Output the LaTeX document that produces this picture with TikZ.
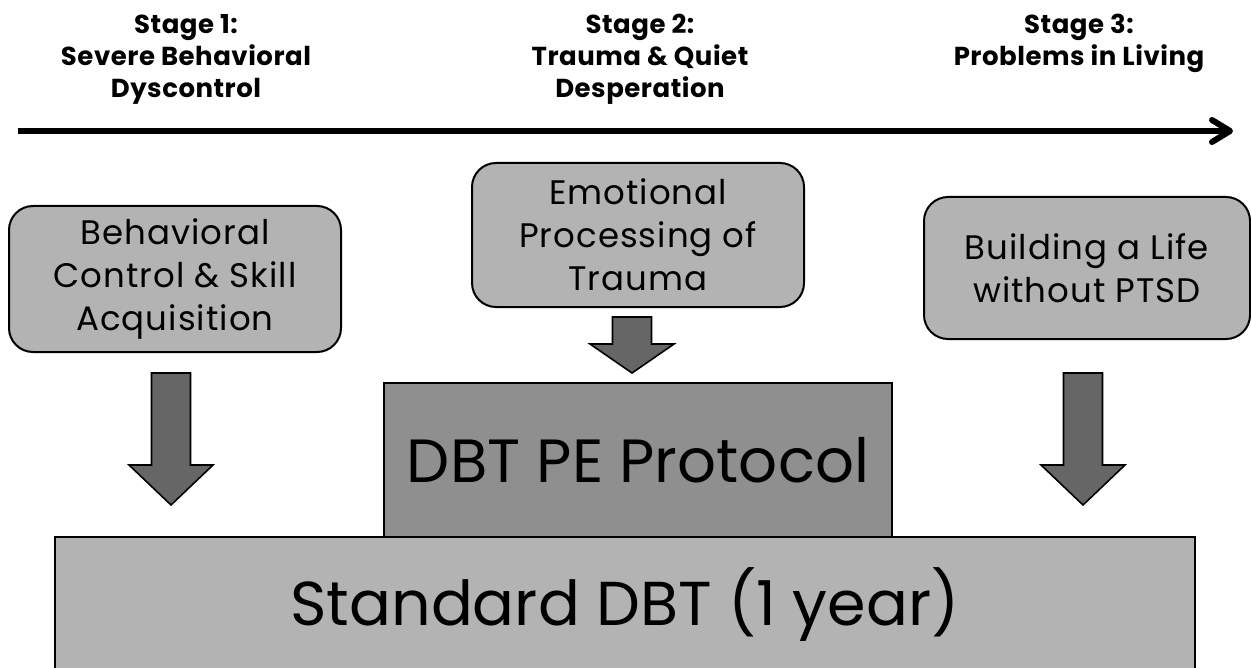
\documentclass[tikz,border=0pt]{standalone}
\usepackage{fontspec}
\setmainfont{Poppins}
\definecolor{boxgray}{HTML}{B3B3B3}
\definecolor{pegray}{HTML}{8F8F8F}
\definecolor{arrgray}{HTML}{666666}
\newcommand\blockarr[4]{%
  \draw[blockarrow] (#1-19.5,#2) -- (#1+19.5,#2) -- (#1+19.5,#3) -- (#1+42,#3) -- (#1,#4) -- (#1-42,#3) -- (#1-19.5,#3) -- cycle;}
\begin{document}
\begin{tikzpicture}[x=0.5pt,y=-0.5pt,
  box/.style={draw=black, line width=1pt, fill=boxgray, rounded corners=12pt, align=center,
    font=\fontsize{17}{21.5}\selectfont\addfontfeature{LetterSpace=3}, inner sep=0pt},
  bigbox/.style={draw=black, line width=1pt, align=center, inner sep=0pt},
  stage/.style={font=\bfseries\fontsize{13}{16}\selectfont\addfontfeature{LetterSpace=2}, align=center, inner sep=0pt, anchor=north},
  blockarrow/.style={draw=black, line width=0.8pt, fill=arrgray, line join=miter}]
\useasboundingbox (0,0) rectangle (1251,668);

% timeline
\coordinate (tl0) at (18,131);
\coordinate (tl1) at (1230,131);
\draw[line width=3pt] (tl0) -- (tl1);
\draw[line width=3pt, line cap=round, line join=round] (1212,120) -- (tl1) -- (1212,142);

% stage labels
\node[stage] (s1) at (186,14) {Stage 1:\\Severe Behavioral\\Dyscontrol};
\node[stage] (s2) at (640,14) {Stage 2:\\Trauma \& Quiet\\Desperation};
\node[stage] (s3) at (1079,14) {Stage 3:\\Problems in Living};

% boxes
\node[box, minimum width=166pt, minimum height=73pt] (b1) at (175,279) {Behavioral\\Control \& Skill\\Acquisition};
\node[box, minimum width=166pt, minimum height=72pt] (b2) at (638,235) {Emotional\\Processing of\\Trauma};
\node[box, minimum width=163pt, minimum height=71pt] (b3) at (1087,268) {Building a Life\\without PTSD};

% standard DBT
\node[bigbox, fill=boxgray, minimum width=570pt, minimum height=68pt,
  font=\fontsize{31}{38}\selectfont] (std) at (625,605) {Standard DBT (1 year)};
% DBT PE
\node[bigbox, fill=pegray, minimum width=254pt, minimum height=77pt,
  font=\fontsize{30.5}{40}\selectfont] (pe) at (638,460) {DBT PE Protocol};

% block arrows
\blockarr{171}{373}{465}{505}
\blockarr{632}{317}{344}{373}
\blockarr{1083}{373}{465}{505}
\end{tikzpicture}
\end{document}
